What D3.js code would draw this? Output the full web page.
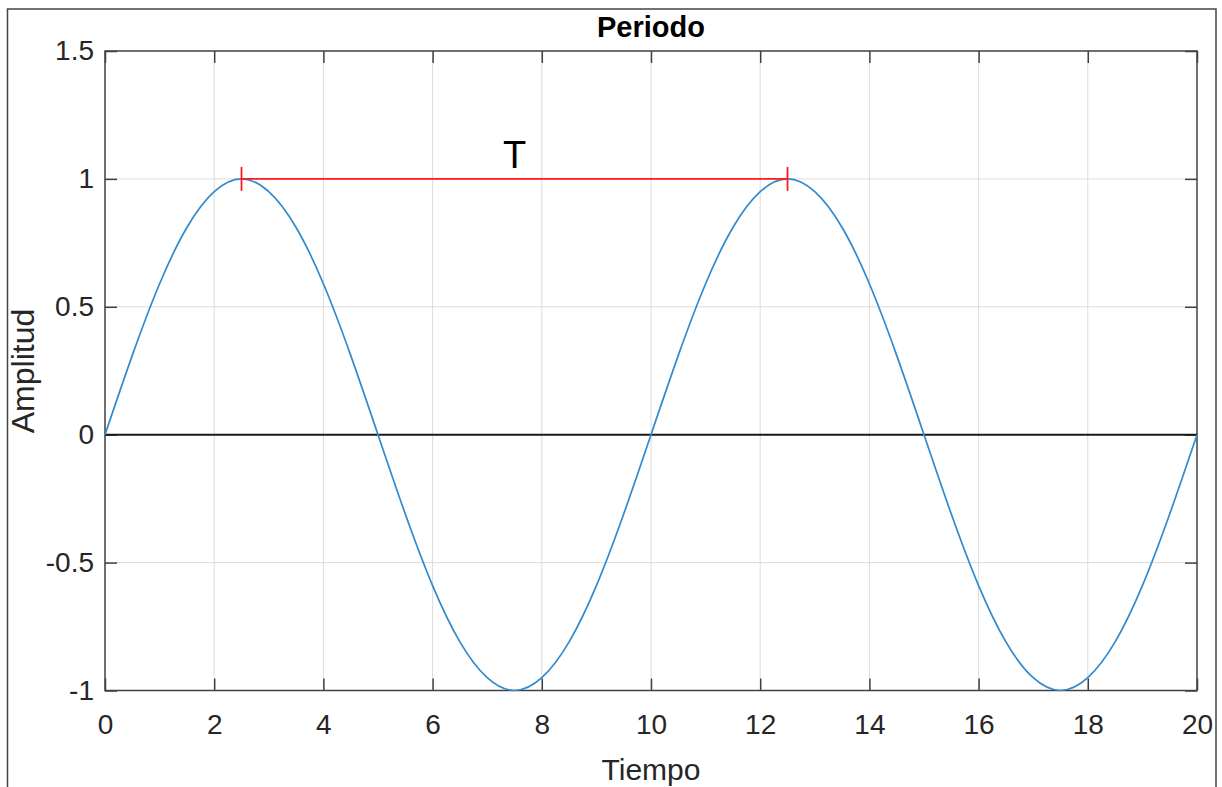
<!DOCTYPE html>
<html>
<head>
<meta charset="utf-8">
<script src="https://cdn.jsdelivr.net/npm/d3@7"></script>
<style>
  html, body { margin: 0; padding: 0; background: #fff; }
  svg { display: block; font-family: "Liberation Sans", Arial, sans-serif; }
</style>
</head>
<body>
<svg id="chart" width="1222" height="787"></svg>
<script>
// muestras (cada 0.5 s)
const tiempo = [0, 0.5, 1, 1.5, 2, 2.5, 3, 3.5, 4, 4.5, 5, 5.5, 6, 6.5, 7, 7.5, 8, 8.5, 9, 9.5,
  10, 10.5, 11, 11.5, 12, 12.5, 13, 13.5, 14, 14.5, 15, 15.5, 16, 16.5, 17, 17.5, 18, 18.5, 19, 19.5, 20];
const amplitud = [0, 0.31, 0.59, 0.81, 0.95, 1, 0.95, 0.81, 0.59, 0.31,
  0, -0.31, -0.59, -0.81, -0.95, -1, -0.95, -0.81, -0.59, -0.31,
  0, 0.31, 0.59, 0.81, 0.95, 1, 0.95, 0.81, 0.59, 0.31,
  0, -0.31, -0.59, -0.81, -0.95, -1, -0.95, -0.81, -0.59, -0.31, 0];
const xTicks = [0, 2, 4, 6, 8, 10, 12, 14, 16, 18, 20];
const yTicks = [-1, -0.5, 0, 0.5, 1, 1.5];
const periodo = [2.5, 12.5];   // inicio y fin de T
const nivelT = 1;

const svg = d3.select('#chart');
const margin = { left: 105, top: 51, right: 1222 - 1197, bottom: 787 - 690.5 };
const W = 1222 - margin.left - margin.right;
const H = 787 - margin.top - margin.bottom;
const axisColor = '#404040';

const x = d3.scaleLinear().domain([0, 20]).range([0, W]);
const y = d3.scaleLinear().domain([-1, 1.5]).range([H, 0]);

// marco exterior
svg.append('rect')
  .attr('x', 7.5).attr('y', 9).attr('width', 1216 - 7.5).attr('height', 800)
  .attr('fill', 'none').attr('stroke', '#444').attr('stroke-width', 1.5);

const g = svg.append('g').attr('transform', `translate(${margin.left},${margin.top})`);

// grid
g.append('g').selectAll('line').data(xTicks.slice(1, -1)).enter().append('line')
  .attr('x1', d => x(d)).attr('x2', d => x(d)).attr('y1', 0).attr('y2', H)
  .attr('stroke', '#dcdcdc').attr('stroke-width', 1);
g.append('g').selectAll('line').data(yTicks.slice(1, -1)).enter().append('line')
  .attr('y1', d => y(d)).attr('y2', d => y(d)).attr('x1', 0).attr('x2', W)
  .attr('stroke', '#dcdcdc').attr('stroke-width', 1);

// ejes con ticks hacia dentro
const tickLen = 12;
const styleAxis = sel => {
  sel.select('.domain').remove();
  sel.selectAll('line').attr('stroke', axisColor).attr('stroke-width', 1.5);
  sel.selectAll('text').attr('fill', '#262626').style('font-size', '28px');
};
g.append('g').attr('transform', `translate(0,${H})`)
  .call(d3.axisBottom(x).tickValues(xTicks).tickSizeInner(-tickLen).tickSizeOuter(0).tickPadding(24))
  .call(styleAxis);
g.append('g')
  .call(d3.axisTop(x).tickValues(xTicks).tickSizeInner(-tickLen).tickSizeOuter(0).tickFormat(''))
  .call(styleAxis);
g.append('g')
  .call(d3.axisLeft(y).tickValues(yTicks).tickSizeInner(-tickLen).tickSizeOuter(0).tickPadding(11).tickFormat(d => String(d)))
  .call(styleAxis);
g.append('g').attr('transform', `translate(${W},0)`)
  .call(d3.axisRight(y).tickValues(yTicks).tickSizeInner(-tickLen).tickSizeOuter(0).tickFormat(''))
  .call(styleAxis);

// caja
g.append('rect').attr('width', W).attr('height', H)
  .attr('fill', 'none').attr('stroke', axisColor).attr('stroke-width', 1.5);

// linea de cero
g.append('line')
  .attr('x1', x(0)).attr('x2', x(20)).attr('y1', y(0)).attr('y2', y(0))
  .attr('stroke', '#1a1a1a').attr('stroke-width', 2);

// senal
const line = d3.line().x(d => x(d[0])).y(d => y(d[1])).curve(d3.curveNatural);
g.append('path')
  .datum(tiempo.map((t, i) => [t, amplitud[i]]))
  .attr('d', line)
  .attr('fill', 'none').attr('stroke', '#2f8ad0').attr('stroke-width', 1.7);

// periodo T
g.append('line')
  .attr('x1', x(periodo[0])).attr('x2', x(periodo[1])).attr('y1', y(nivelT)).attr('y2', y(nivelT))
  .attr('stroke', '#ff1a1a').attr('stroke-width', 1.8);
g.selectAll('.marcaT').data(periodo).enter().append('line')
  .attr('class', 'marcaT')
  .attr('x1', d => x(d)).attr('x2', d => x(d))
  .attr('y1', y(nivelT) - 12).attr('y2', y(nivelT) + 12)
  .attr('stroke', '#ff1a1a').attr('stroke-width', 1.8);
g.append('text')
  .attr('x', x((periodo[0] + periodo[1]) / 2)).attr('y', y(nivelT) - 11)
  .attr('text-anchor', 'middle').attr('fill', '#000').style('font-size', '38px')
  .text('T');

// titulos
svg.append('text').attr('x', margin.left + W / 2).attr('y', 37)
  .attr('text-anchor', 'middle').style('font-size', '29px').style('font-weight', 'bold')
  .attr('fill', '#000').text('Periodo');
svg.append('text').attr('x', margin.left + W / 2).attr('y', 780)
  .attr('text-anchor', 'middle').style('font-size', '30px')
  .attr('fill', '#262626').text('Tiempo');
svg.append('text').attr('transform', `translate(34,371) rotate(-90)`)
  .attr('text-anchor', 'middle').style('font-size', '32px')
  .attr('fill', '#262626').text('Amplitud');
</script>
</body>
</html>
